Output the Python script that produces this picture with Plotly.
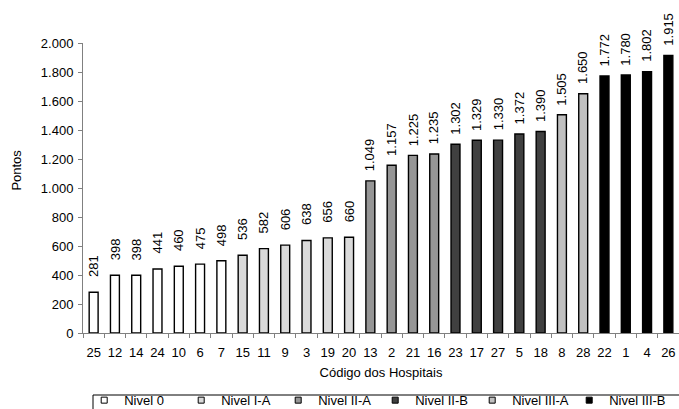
import plotly.graph_objects as go

codes = ["25","12","14","24","10","6","7","15","11","9","3","19","20","13","2","21","16","23","17","27","5","18","8","28","22","1","4","26"]
pontos = [281,398,398,441,460,475,498,536,582,606,638,656,660,1049,1157,1225,1235,1302,1329,1330,1372,1390,1505,1650,1772,1780,1802,1915]
niveis = ["Nivel 0"]*7 + ["Nivel I-A"]*6 + ["Nivel II-A"]*4 + ["Nivel II-B"]*5 + ["Nivel III-A"]*2 + ["Nivel III-B"]*4
nivel_names = ["Nivel 0","Nivel I-A","Nivel II-A","Nivel II-B","Nivel III-A","Nivel III-B"]
nivel_colors = ["#ffffff","#dadada","#969696","#404040","#c0c0c0","#000000"]

def fmt(v):
    return f"{v:,}".replace(",", ".")

font_family = "Liberation Sans, Arial, sans-serif"
idx = list(range(len(codes)))
fig = go.Figure()
for name, color in zip(nivel_names, nivel_colors):
    xs = [i for i, n in zip(idx, niveis) if n == name]
    ys = [v for v, n in zip(pontos, niveis) if n == name]
    fig.add_trace(go.Bar(
        x=xs, y=ys, name=name, showlegend=False,
        marker=dict(color=color, line=dict(color="black", width=1.4)),
        width=0.42, cliponaxis=False,
    ))
    # legend entry with a small square swatch
    fig.add_trace(go.Scatter(
        x=[None], y=[None], mode="markers", name=name,
        marker=dict(symbol="square", size=6, color=color, line=dict(color="black", width=1)),
    ))

for i, v in zip(idx, pontos):
    fig.add_annotation(x=i, y=v, text=fmt(v), textangle=-90, showarrow=False,
                       xanchor="center", yanchor="middle", yshift=26,
                       font=dict(size=13, color="black", family=font_family))

fig.add_annotation(x=-0.1107, y=0.56, xref="paper", yref="paper", text="Pontos",
                   textangle=-90, showarrow=False, xanchor="center", yanchor="middle",
                   font=dict(size=13, color="black", family=font_family))

# legend frame
fig.add_shape(type="rect", xref="paper", yref="paper",
              x0=0.0168, x1=1.05, y0=-0.2138, y1=-0.40,
              line=dict(color="black", width=1), fillcolor="rgba(0,0,0,0)", layer="below")

fig.update_layout(
    width=679, height=409,
    margin=dict(l=83, r=0, t=43, b=76, autoexpand=False),
    barmode="overlay",
    plot_bgcolor="white", paper_bgcolor="white",
    font=dict(family=font_family, size=13, color="black"),
    showlegend=True,
    legend=dict(orientation="h", x=0.002, xanchor="left", y=-0.180, yanchor="top",
                borderwidth=0, bgcolor="rgba(0,0,0,0)", font=dict(size=13),
                entrywidth=52, entrywidthmode="pixels",
                traceorder="normal"),
    xaxis=dict(range=[-0.5, len(codes) - 0.5], tickvals=idx, ticktext=codes,
               showline=True, linecolor="#808080", linewidth=1, tickangle=0,
               ticks="", showgrid=False, zeroline=False, automargin=False,
               ticklabelstandoff=7,
               title=dict(text="Código dos Hospitais", font=dict(size=13), standoff=9)),
    xaxis2=dict(overlaying="x", range=[-0.5, len(codes) - 0.5],
                tickvals=[i - 0.5 for i in range(len(codes) + 1)], showticklabels=False,
                ticks="outside", ticklen=4, tickcolor="#808080", showgrid=False,
                zeroline=False, side="bottom", showline=False),
    yaxis=dict(range=[0, 2000], tickvals=list(range(0, 2001, 200)),
               ticktext=[fmt(v) for v in range(0, 2001, 200)],
               showline=True, linecolor="#808080", linewidth=1,
               ticks="outside", ticklen=4, tickcolor="#808080", ticklabelstandoff=2,
               showgrid=False, zeroline=False, automargin=False),
)
# invisible trace to activate the boundary-tick axis
fig.add_trace(go.Scatter(x=[None], y=[None], xaxis="x2", showlegend=False, hoverinfo="skip"))
fig.write_html("out.html", config={"displayModeBar": False},
               post_script="document.body.style.margin='0';document.body.style.overflow='hidden';")
